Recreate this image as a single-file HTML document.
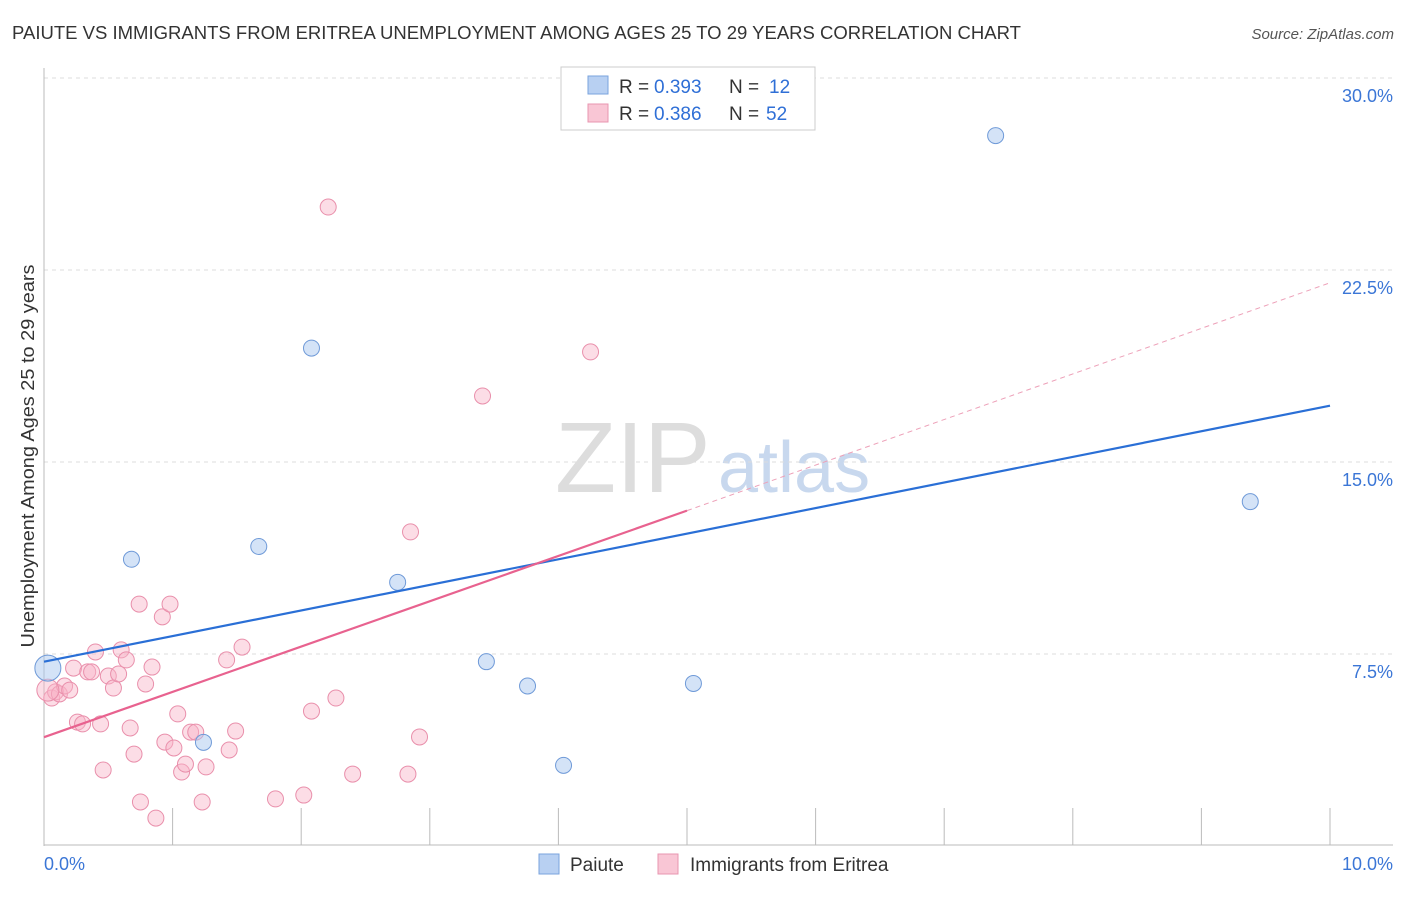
<!DOCTYPE html>
<html><head><meta charset="utf-8"><style>
body{margin:0;background:#fff;font-family:"Liberation Sans",sans-serif}
svg text{font-family:"Liberation Sans",sans-serif}
</style></head><body>
<svg width="1406" height="892" id="c">
<text x="12" y="39" font-size="18" fill="#333" textLength="1009" lengthAdjust="spacingAndGlyphs">PAIUTE VS IMMIGRANTS FROM ERITREA UNEMPLOYMENT AMONG AGES 25 TO 29 YEARS CORRELATION CHART</text>
<text x="1394" y="39" font-size="15" fill="#555" font-style="italic" text-anchor="end">Source: ZipAtlas.com</text>
<text x="34" y="456" font-size="18" fill="#333" text-anchor="middle" textLength="383" lengthAdjust="spacingAndGlyphs" transform="rotate(-90 34 456)">Unemployment Among Ages 25 to 29 years</text>
<text x="555" y="492" font-size="100" fill="#ddd" font-family="Liberation Serif">ZIP</text>
<text x="718" y="492" font-size="72" fill="#c8d8ee">atlas</text>
<g id="grid"></g><g id="marks"></g>
<g>
<rect x="561" y="67" width="254" height="63" fill="#fff" stroke="#ccc"/>
<rect x="588" y="76" width="20" height="18" fill="#b8d0f2" stroke="#7aa3dd"/>
<rect x="588" y="104" width="20" height="18" fill="#f9c6d5" stroke="#e896b0"/>
<text x="619" y="93" font-size="19" fill="#333">R =</text><text x="654" y="93" font-size="19" fill="#2f6fd6">0.393</text>
<text x="729" y="93" font-size="19" fill="#333">N =</text><text x="769" y="93" font-size="19" fill="#2f6fd6">12</text>
<text x="619" y="120" font-size="19" fill="#333">R =</text><text x="654" y="120" font-size="19" fill="#2f6fd6">0.386</text>
<text x="729" y="120" font-size="19" fill="#333">N =</text><text x="766" y="120" font-size="19" fill="#2f6fd6">52</text>
</g>
<g>
<rect x="539" y="854" width="20" height="20" fill="#b8d0f2" stroke="#7aa3dd"/>
<text x="570" y="871" font-size="19" fill="#333">Paiute</text>
<rect x="658" y="854" width="20" height="20" fill="#f9c6d5" stroke="#e896b0"/>
<text x="690" y="871" font-size="19" fill="#333">Immigrants from Eritrea</text>
</g>
</svg>
<script>
const yTicks=[7.5,15,22.5,30];
const yTickLabels=["7.5%","15.0%","22.5%","30.0%"];
const xTickLabels=["0.0%","10.0%"];
const paiuteX=[0.03,0.68,1.24,1.67,2.08,2.75,3.44,3.76,4.04,5.05,7.40,9.38];
const paiuteY=[6.95,11.2,4.05,11.7,19.45,10.3,7.2,6.25,3.15,6.35,27.75,13.45];
const eritreaX=[0.06,0.09,0.12,0.16,0.20,0.23,0.26,0.30,0.34,0.37,0.40,0.44,0.46,0.50,0.54,0.58,0.60,0.64,0.67,0.70,0.74,0.75,0.79,0.84,0.87,0.92,0.94,0.98,1.01,1.04,1.07,1.10,1.14,1.18,1.23,1.26,1.42,1.44,1.49,1.54,1.80,2.02,2.08,2.21,2.27,2.40,2.83,2.85,2.92,3.41,4.25,0.03];
const eritreaY=[5.78,6.02,5.94,6.25,6.09,6.95,4.84,4.77,6.80,6.80,7.58,4.77,2.97,6.64,6.17,6.72,7.66,7.27,4.61,3.59,9.45,1.72,6.33,6.99,1.09,8.95,4.06,9.45,3.83,5.16,2.89,3.20,4.45,4.45,1.72,3.09,7.27,3.75,4.49,7.77,1.84,1.99,5.27,24.96,5.78,2.81,2.81,12.27,4.26,17.58,19.30,6.09];
const paiuteTrend=[7.2,17.2];
const eritreaTrend=[4.25,13.1,22.0];
const X=v=>44+v*128.6, Y=v=>846-v*25.6;
const NS="http://www.w3.org/2000/svg";
function mk(t,a,p){const e=document.createElementNS(NS,t);for(const k in a)e.setAttribute(k,a[k]);p.appendChild(e);return e;}
const g=document.getElementById('grid'),m=document.getElementById('marks');
yTicks.forEach((t,i)=>{
 const l=mk('line',{x1:44,x2:1393,y1:Y(t),y2:Y(t),stroke:'#ddd','stroke-dasharray':'4,4'},g);
 
 
 const tx=mk('text',{x:1393,y:Y(t)+24,'font-size':18,fill:'#3b76d6','text-anchor':'end'},g);tx.textContent=yTickLabels[i];
 
 
});
mk('line',{x1:44,x2:44,y1:68,y2:846,stroke:'#bbb'},g);
mk('line',{x1:44,x2:1393,y1:845,y2:845,stroke:'#bbb'},g);
for(let i=0;i<=10;i++){const t=mk('line',{x1:X(i),x2:X(i),y1:808,y2:845,stroke:'#bbb'},g);
 
 }
[[0,69,'start'],[10,1393,'end']].forEach((d,i)=>{const t=mk('text',{x:i?1393:44,y:870,'font-size':18,fill:'#3b76d6','text-anchor':d[2]},g);t.textContent=xTickLabels[i];
 
 });
eritreaX.forEach((x,i)=>{const c=mk('circle',{cx:X(x),cy:Y(eritreaY[i]),r:i==51?11:8,fill:'rgba(248,180,200,0.45)',stroke:'#e98fab','stroke-width':1},m);
 
 });
paiuteX.forEach((x,i)=>{const c=mk('circle',{cx:X(x),cy:Y(paiuteY[i]),r:i==0?13:8,fill:'rgba(170,200,240,0.5)',stroke:'#6f9ad8','stroke-width':1},m);
 
 });
let l=mk('line',{x1:X(0),y1:Y(paiuteTrend[0]),x2:X(10),y2:Y(paiuteTrend[1]),stroke:'#2a6fd6','stroke-width':2.2},m);


l=mk('line',{x1:X(0),y1:Y(eritreaTrend[0]),x2:X(5),y2:Y(eritreaTrend[1]),stroke:'#e8628f','stroke-width':2.2},m);


l=mk('line',{x1:X(5),y1:Y(eritreaTrend[1]),x2:X(10),y2:Y(eritreaTrend[2]),stroke:'#eda0b8','stroke-width':1,'stroke-dasharray':'5,4'},m);


</script>
</body></html>
